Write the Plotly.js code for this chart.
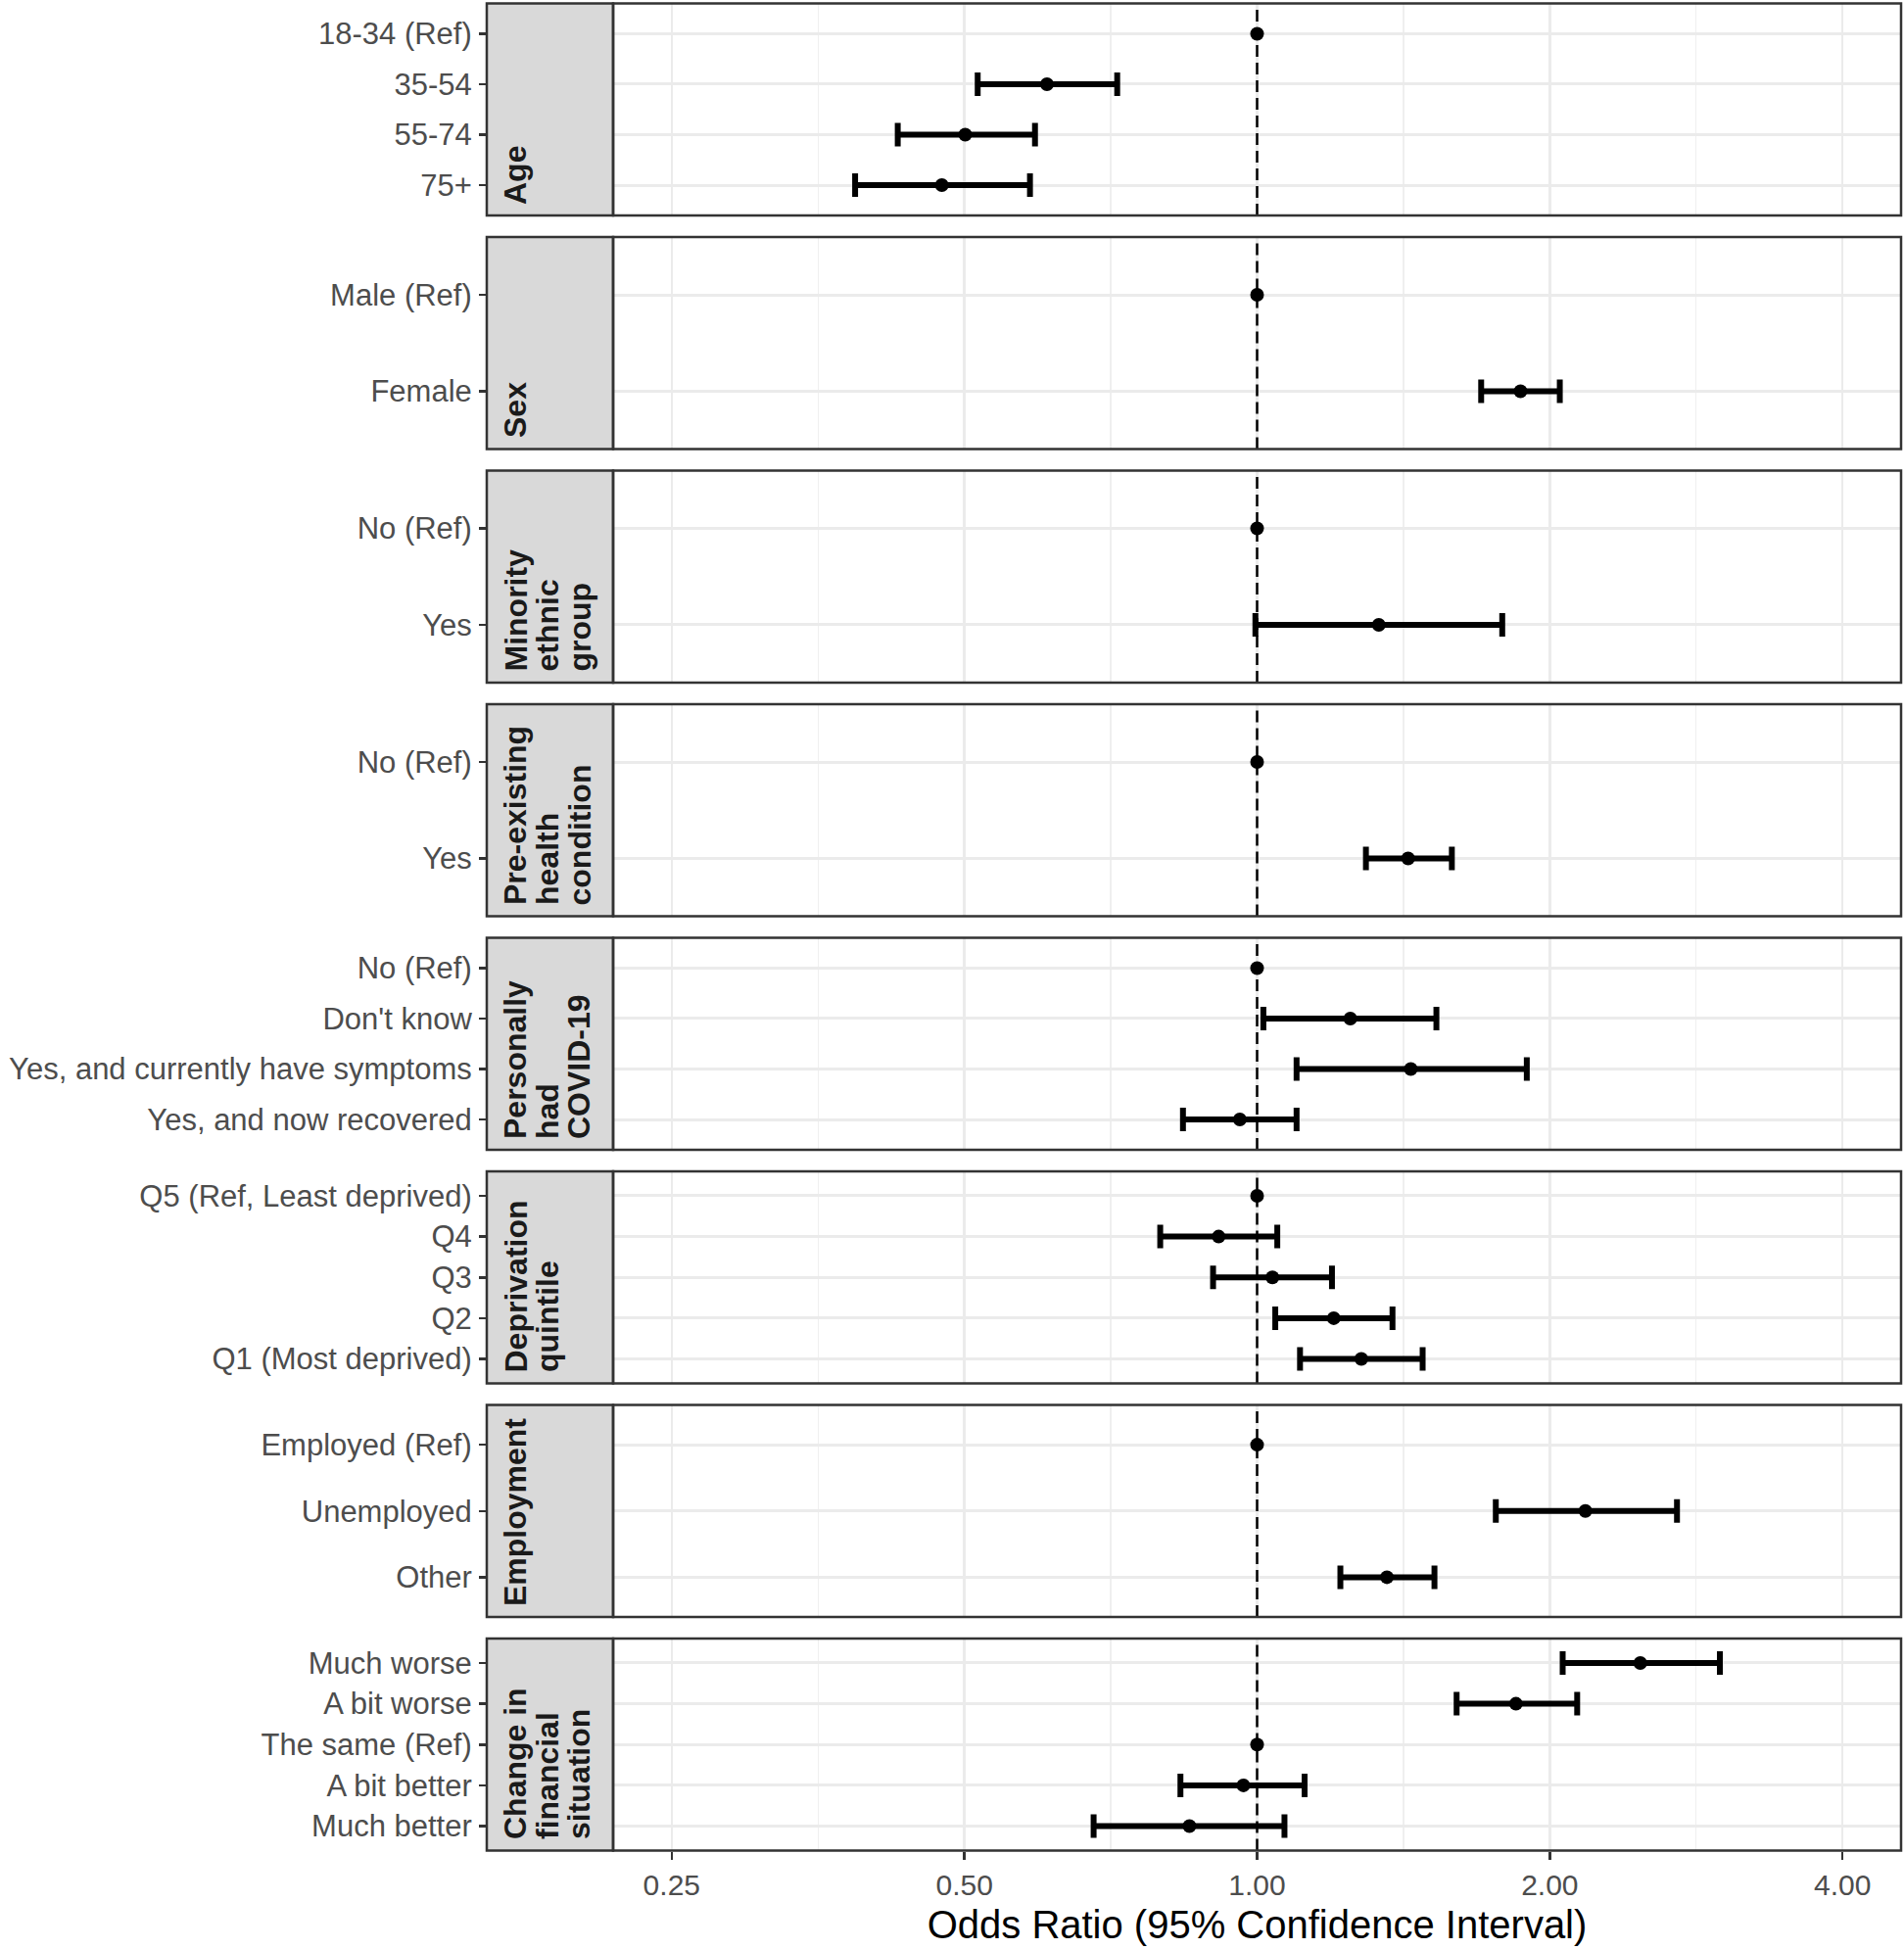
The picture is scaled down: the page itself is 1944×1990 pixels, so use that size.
<!DOCTYPE html>
<html><head><meta charset="utf-8">
<script src="https://cdn.plot.ly/plotly-3.0.1.min.js"></script>
<style>html,body{margin:0;padding:0;background:#fff}</style>
</head><body><div id="chart" style="width:1944px;height:1990px"></div>
<script>
// ---- data (odds ratios and 95% CI) ----
const ageLabels = ["18-34 (Ref)", "35-54", "55-74", "75+"];
const ageOR = [1.00, 0.608, 0.501, 0.474];
const ageLo = [null, 0.516, 0.427, 0.386];
const ageHi = [null, 0.718, 0.591, 0.584];

const sexLabels = ["Male (Ref)", "Female"];
const sexOR = [1.00, 1.866];
const sexLo = [null, 1.70];
const sexHi = [null, 2.048];

const ethLabels = ["No (Ref)", "Yes"];
const ethOR = [1.00, 1.334];
const ethLo = [null, 0.996];
const ethHi = [null, 1.787];

const healthLabels = ["No (Ref)", "Yes"];
const healthOR = [1.00, 1.43];
const healthLo = [null, 1.294];
const healthHi = [null, 1.586];

const covidLabels = ["No (Ref)", "Don't know", "Yes, and currently have symptoms", "Yes, and now recovered"];
const covidOR = [1.00, 1.247, 1.439, 0.960];
const covidLo = [null, 1.015, 1.098, 0.839];
const covidHi = [null, 1.529, 1.894, 1.098];

const depLabels = ["Q5 (Ref, Least deprived)", "Q4", "Q3", "Q2", "Q1 (Most deprived)"];
const depOR = [1.00, 0.913, 1.037, 1.199, 1.280];
const depLo = [null, 0.795, 0.901, 1.044, 1.107];
const depHi = [null, 1.049, 1.194, 1.378, 1.480];

const empLabels = ["Employed (Ref)", "Unemployed", "Other"];
const empOR = [1.00, 2.176, 1.360];
const empLo = [null, 1.760, 1.218];
const empHi = [null, 2.703, 1.522];

const finLabels = ["Much worse", "A bit worse", "The same (Ref)", "A bit better", "Much better"];
const finOR = [2.478, 1.846, 1.00, 0.968, 0.852];
const finLo = [2.062, 1.604, null, 0.834, 0.679];
const finHi = [2.992, 2.134, null, 1.119, 1.067];

const stripTitles = [
  ["Age"], ["Sex"], ["Minority", "ethnic", "group"], ["Pre-existing", "health", "condition"],
  ["Personally", "had", "COVID-19"], ["Deprivation", "quintile"], ["Employment"],
  ["Change in", "financial", "situation"]
];

const xTickVals = [0.25, 0.5, 1, 2, 4];
const xTickText = ["0.25", "0.50", "1.00", "2.00", "4.00"];
const xMinorVals = [0.3536, 0.7071, 1.4142, 2.8284];
const xTitle = "Odds Ratio (95% Confidence Interval)";

// ---- build ----
const panels = [
  [ageLabels, ageOR, ageLo, ageHi],
  [sexLabels, sexOR, sexLo, sexHi],
  [ethLabels, ethOR, ethLo, ethHi],
  [healthLabels, healthOR, healthLo, healthHi],
  [covidLabels, covidOR, covidLo, covidHi],
  [depLabels, depOR, depLo, depHi],
  [empLabels, empOR, empLo, empHi],
  [finLabels, finOR, finLo, finHi]
];

const W = 1944, H = 1990;
const stripL = 497, panelL = 626, panelR = 1941;
const top0 = 3.5, step = 238.5, ph = 216.5;
const FONT = "Liberation Sans, Arial, sans-serif";

const traces = [];
const shapes = [];
const annotations = [];
const layout = {
  width: W, height: H, autosize: false,
  margin: {l: 0, r: 0, t: 0, b: 0, pad: 0},
  paper_bgcolor: "#fff", plot_bgcolor: "#fff",
  showlegend: false,
  font: {family: FONT, color: "#4D4D4D"},
  xaxis: {
    type: "log", domain: [panelL / W, panelR / W], range: [-0.6623, 0.6623],
    anchor: "y8", tickmode: "array", tickvals: xTickVals, ticktext: xTickText,
    ticks: "outside", ticklen: 8, tickwidth: 2.5, tickcolor: "#333333",
    tickfont: {family: FONT, size: 30, color: "#4D4D4D"},
    showgrid: true, gridcolor: "#EBEBEB", gridwidth: 2.5,
    minor: {tickmode: "array", tickvals: xMinorVals, showgrid: true, gridcolor: "#EFEFEF", gridwidth: 1.3},
    zeroline: false, showline: false, automargin: false,
    title: {text: xTitle, font: {family: FONT, size: 40, color: "#000"}, standoff: 11}
  }
};

panels.forEach((p, i) => {
  const [labels, or, lo, hi] = p;
  const n = labels.length;
  const yName = i === 0 ? "y" : "y" + (i + 1);
  const yKey = i === 0 ? "yaxis" : "yaxis" + (i + 1);
  const topPx = top0 + step * i, botPx = topPx + ph;
  const dom = [1 - botPx / H, 1 - topPx / H];
  layout[yKey] = {
    domain: dom, type: "category", categoryorder: "array", categoryarray: labels,
    range: [n - 0.4, -0.6], anchor: "free", position: stripL / W, side: "left",
    ticks: "outside", ticklen: 8, tickwidth: 2.5, tickcolor: "#333333",
    ticklabelstandoff: 1,
    tickfont: {family: FONT, size: 31, color: "#4D4D4D"},
    showgrid: true, gridcolor: "#EBEBEB", gridwidth: 3,
    zeroline: false, showline: false, automargin: false
  };
  traces.push({
    type: "scatter", mode: "markers", x: or, y: labels, xaxis: "x", yaxis: yName,
    marker: {color: "#000", size: 14},
    error_x: {
      type: "data", symmetric: false, visible: true,
      array: or.map((v, j) => hi[j] == null ? NaN : hi[j] - v),
      arrayminus: or.map((v, j) => lo[j] == null ? NaN : v - lo[j]),
      color: "#000", thickness: 6, width: 12
    },
    hoverinfo: "skip", cliponaxis: false, showlegend: false
  });
  // reference line at OR = 1
  shapes.push({type: "line", xref: "x", yref: yName + " domain", x0: 1, x1: 1, y0: 0, y1: 1,
    line: {color: "#000", width: 2.5, dash: "12px,6px"}, layer: "above"});
  // strip
  shapes.push({type: "rect", xref: "paper", yref: "paper", x0: stripL / W, x1: panelL / W, y0: dom[0], y1: dom[1],
    fillcolor: "#D9D9D9", line: {color: "#333333", width: 2.5}, layer: "above"});
  // panel border
  shapes.push({type: "rect", xref: "paper", yref: "paper", x0: panelL / W, x1: panelR / W, y0: dom[0], y1: dom[1],
    fillcolor: "rgba(0,0,0,0)", line: {color: "#333333", width: 2.5}, layer: "above"});
  stripTitles[i].forEach((t, k) => {
    annotations.push({
      xref: "paper", yref: "paper", x: (526 + k * 32.5) / W, y: 1 - (botPx - 9) / H,
      xanchor: "center", yanchor: "bottom", textangle: -90, showarrow: false,
      text: t, font: {family: FONT, size: 32, color: "#1A1A1A", weight: "bold"}
    });
  });
});

layout.shapes = shapes;
layout.annotations = annotations;

Plotly.newPlot("chart", traces, layout, {staticPlot: true, displayModeBar: false});
</script>
</body></html>
